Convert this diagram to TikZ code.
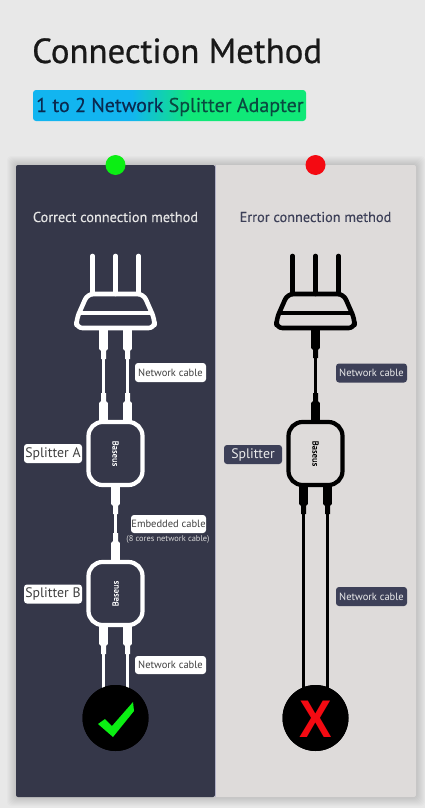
\documentclass[tikz,border=0pt]{standalone}
\usepackage{fontspec}
\setmainfont{PT Sans}
\newfontfamily\titlefont[FakeBold=0.7]{PT Sans}
\newfontfamily\subfont[FakeBold=0.3]{PT Sans}
\newfontfamily\headfont[FakeBold=0.2]{PT Sans}
\newfontfamily\xfont{Liberation Sans}
\usetikzlibrary{calc}
\definecolor{pagebg}{HTML}{E8E8E8}
\definecolor{darkpanel}{HTML}{353749}
\definecolor{lightpanel}{HTML}{DEDBDA}
\definecolor{darklabel}{HTML}{3D4058}
\definecolor{okgreen}{HTML}{0BEF13}
\definecolor{badred}{HTML}{F40A12}
\definecolor{gradblue}{HTML}{12B5F0}
\definecolor{gradgreen}{HTML}{10E878}
\pgfdeclarehorizontalshading{subgrad}{100bp}{color(0bp)=(gradblue); color(43bp)=(gradblue); color(54bp)=(gradgreen); color(100bp)=(gradgreen)}
\newcommand{\plugend}[3]{\fill[#3,shift={(#1)},yscale=#2] (-4.4,0) -- (4.4,0) -- (4.4,19) -- (2.5,21) -- (2.5,29) -- (-2.5,29) -- (-2.5,21) -- (-4.4,19) -- cycle;}
\newcommand{\cablerun}[3]{\draw[#3,line width=2.6pt] (#1) -- (#2);
  \plugend{#1}{1}{#3}\plugend{#2}{-1}{#3}}
\newcommand{\routershape}[2]{%
  \begin{scope}[shift={(#1)},draw=#2,line width=4.6pt,line cap=round,line join=round]
    \draw (-23,-56) -- (-23,-18) (0,-56) -- (0,-18) (23,-56) -- (23,-18);
    \draw[rounded corners=6pt] (-28,-18) -- (28,-18) -- (39,7) -- (39,16) -- (-39,16) -- (-39,7) -- cycle;
    \draw (-35,1) -- (35,1);
  \end{scope}}
\tikzset{
  x=1pt,y=-1pt,
  routerbox/.style={minimum width=78pt,minimum height=34pt,inner sep=0pt,outer sep=0pt},
  splitter/.style={rounded corners=14pt,line width=4.2pt,minimum width=54pt,minimum height=63pt,inner sep=0pt,outer sep=0pt},
  lightlabel/.style={fill=white,text=black!75,rounded corners=3pt,inner sep=0pt},
  darkchip/.style={fill=darklabel,text=white!92!black,rounded corners=3pt,inner sep=0pt},
  cablelabel/.style={minimum width=71pt,minimum height=19pt,font=\fontsize{10.5}{12}\selectfont},
  splitlabel/.style={minimum width=58pt,minimum height=19pt,font=\fontsize{13.8}{16}\selectfont},
  panelhead/.style={font=\fontsize{14.3}{16}\selectfont\headfont},
  dot/.style={circle,minimum size=20pt,inner sep=0pt},
  badge/.style={circle,fill=black,minimum size=66pt,inner sep=0pt},
}
\newcommand{\brandtext}[2]{\rotatebox{#1}{\textcolor{#2}{\fontsize{8.6}{9}\selectfont\headfont Baseus}}}
\begin{document}
\begin{tikzpicture}
\useasboundingbox (0,0) rectangle (425,808);
\fill[pagebg] (0,0) rectangle (425,808);
% soft panel shadow
\foreach \i in {1,...,9}{
  \fill[black,opacity=0.014,rounded corners=4pt] ({16-\i},{165-\i}) rectangle ({416+\i},{797+\i});
}
\fill[lightpanel,rounded corners=2pt] (210,165) rectangle (416,797);
\fill[darkpanel,rounded corners=2pt] (16,165) rectangle (215,797);
\fill[black!60!blue!40!white,opacity=.5] (215,165) rectangle (216,797);
% heading
\node[anchor=base west,inner sep=0pt,text=black!90,font=\fontsize{34.8}{40}\selectfont\titlefont] (maintitle) at (32,63) {Connection Method};
\shade[shading=subgrad,rounded corners=3pt] (33,90) rectangle (306,121);
\node[anchor=base west,inner sep=0pt,font=\fontsize{20}{24}\selectfont\subfont] (subtitle) at (36,112) {\textcolor[HTML]{0A2A50}{1 to 2 Network }\textcolor[HTML]{0A4A40}{Splitter Adapter}};
% status dots
\node[dot,fill=okgreen] (okdot) at (115.5,165) {};
\node[dot,fill=badred] (baddot) at (315.5,165) {};
\node[panelhead,text=white!90!black] (okhead) at (115.5,217) {Correct connection method};
\node[panelhead,text=darklabel] (badhead) at (315.5,217) {Error connection method};
% routers
\node[routerbox] (routerL) at (115.5,312) {};
\node[routerbox] (routerR) at (315.5,312) {};
\routershape{routerL.center}{white}
\routershape{routerR.center}{black}
% splitters
\node[splitter,draw=white] (spA) at (115.5,453.5) {\brandtext{-90}{white}};
\node[splitter,draw=white] (spB) at (115.5,593.5) {\brandtext{90}{white}};
\node[splitter,draw=black] (spR) at (315.5,453.5) {\brandtext{-90}{black}};
% badges
\node[badge] (okbadge) at (115.5,718) {};
\node[badge] (badbadge) at (315.5,718) {};
% connector end points
\coordinate (la) at ($(routerL.south)+(-12,1)$);
\coordinate (lb) at ($(routerL.south)+(12,1)$);
\coordinate (ra) at ($(spA.north)+(-12,0)$);
\coordinate (rb) at ($(spA.north)+(12,0)$);
\coordinate (ba) at ($(spB.south)+(-12,0)$);
\coordinate (bb) at ($(spB.south)+(12,0)$);
\coordinate (ca) at ($(okbadge.north)+(-12,6)$);
\coordinate (cb) at ($(okbadge.north)+(12,6)$);
\coordinate (ea) at ($(spR.south)+(-12,0)$);
\coordinate (eb) at ($(spR.south)+(12,0)$);
\coordinate (xa) at ($(badbadge.north)+(-12,6)$);
\coordinate (xb) at ($(badbadge.north)+(12,6)$);
% left cables
\cablerun{la}{ra}{white}
\cablerun{lb}{rb}{white}
\cablerun{spA.south}{spB.north}{white}
\draw[white,line width=2.6pt] (ba) -- (ca) (bb) -- (cb);
\plugend{ba}{1}{white}\plugend{bb}{1}{white}
% right cables
\cablerun{routerR.south}{spR.north}{black}
\draw[black,line width=2.6pt] (ea) -- (xa) (eb) -- (xb);
\plugend{ea}{1}{black}\plugend{eb}{1}{black}
% redraw badges above the cables
\node[badge] at (okbadge) {};
\node[badge] at (badbadge) {};
\fill[okgreen,line join=round] (98,724) -- (105,719) -- (112,726) -- (133,702) -- (134,711) -- (113,737) -- cycle;
\node[text=badred,font=\fontsize{53}{53}\selectfont\bfseries\xfont,inner sep=0pt,xscale=.92] (xmark) at (316,719) {X};
% labels
\node[lightlabel,cablelabel] (ln1) at (170.5,372.5) {Network cable};
\node[lightlabel,splitlabel] (lsa) at (53,453.5) {Splitter A};
\node[lightlabel,cablelabel,minimum width=75pt,minimum height=18pt] (lemb) at (168.5,524) {Embedded cable};
\node[text=white!85!black,font=\fontsize{8.4}{9}\selectfont,inner sep=0pt] (lcore) at (168,539) {(8 cores network cable)};
\node[lightlabel,splitlabel] (lsb) at (53,594) {Splitter B};
\node[lightlabel,cablelabel,minimum height=18pt] (ln2) at (170.5,665) {Network cable};
\node[darkchip,cablelabel] (rn1) at (371.5,373) {Network cable};
\node[darkchip,splitlabel] (rs) at (253,454.5) {Splitter};
\node[darkchip,cablelabel] (rn2) at (371.5,596.5) {Network cable};
\end{tikzpicture}
\end{document}
